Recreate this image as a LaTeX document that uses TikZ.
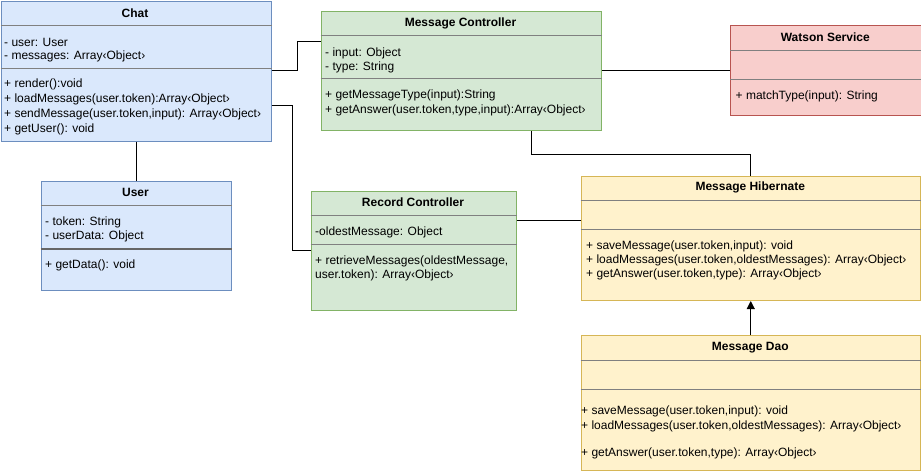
\documentclass[tikz,border=0pt]{standalone}
\usepackage{fontspec}
\setmainfont{Liberation Sans}
\usetikzlibrary{arrows.meta}
\definecolor{bfill}{HTML}{DAE8FC}\definecolor{bline}{HTML}{6C8EBF}
\definecolor{gfill}{HTML}{D5E8D4}\definecolor{gline}{HTML}{82B366}
\definecolor{rfill}{HTML}{F8CECC}\definecolor{rline}{HTML}{B85450}
\definecolor{yfill}{HTML}{FFF2CC}\definecolor{yline}{HTML}{D6B656}
\definecolor{sepc}{HTML}{808080}
\tikzset{
  cls/.style={draw, line width=1pt, inner sep=0pt, anchor=north west, rectangle},
  blue/.style={cls, fill=bfill, draw=bline},
  green/.style={cls, fill=gfill, draw=gline},
  red/.style={cls, fill=rfill, draw=rline},
  yellow/.style={cls, fill=yfill, draw=yline},
  sepl/.style={draw=sepc, line width=1pt},
  ttl/.style={font=\fontsize{12}{14}\selectfont\bfseries, inner sep=0pt, anchor=center},
  txt/.style={font=\fontsize{12}{14}\selectfont, inner sep=0pt, anchor=base west},
  conn/.style={draw=black, line width=1pt},
}
\begin{document}
\begin{tikzpicture}[x=1pt,y=-1pt]
\useasboundingbox (0,0) rectangle (921,471);
% Chat
\node[blue, minimum width=270pt, minimum height=140pt] (chat) at (0.5,0.5) {};
\node[ttl] (chatT) at (135,13) {Chat};
\draw[sepl] ([yshift=-24.5pt]chat.north west) -- ([yshift=-24.5pt]chat.north east);
\draw[sepl] ([yshift=-68pt]chat.north west) -- ([yshift=-68pt]chat.north east);
\node[txt] (chatA1) at (4,46) {- user: User};
\node[txt] (chatA2) at (4,59) {- messages: Array‹Object›};
\node[txt] (chatM1) at (4,87) {+ render():void};
\node[txt] (chatM2) at (4,102) {+ loadMessages(user.token):Array‹Object›};
\node[txt] (chatM3) at (4,117) {+ sendMessage(user.token,input): Array‹Object›};
\node[txt] (chatM4) at (4,132) {+ getUser(): void};
% Message Controller
\node[green, minimum width=280pt, minimum height=119.5pt] (mc) at (320.5,10.5) {};
\node[ttl] (mcT) at (460.5,23) {Message Controller};
\draw[sepl] ([yshift=-24.5pt]mc.north west) -- ([yshift=-24.5pt]mc.north east);
\draw[sepl] ([yshift=-67.5pt]mc.north west) -- ([yshift=-67.5pt]mc.north east);
\node[txt] (mcA1) at (325,56) {- input: Object};
\node[txt] (mcA2) at (325,70) {- type: String};
\node[txt] (mcM1) at (325,98) {+ getMessageType(input):String};
\node[txt] (mcM2) at (325,113) {+ getAnswer(user.token,type,input):Array‹Object›};
% Watson Service
\node[red, minimum width=190.5pt, minimum height=90pt] (ws) at (730,25) {};
\node[ttl] (wsT) at (825.25,37.5) {Watson Service};
\draw[sepl] ([yshift=-25pt]ws.north west) -- ([yshift=-25pt]ws.north east);
\draw[sepl] ([yshift=-54.3pt]ws.north west) -- ([yshift=-54.3pt]ws.north east);
\node[txt] (wsM1) at (735.5,99.7) {+ matchType(input): String};
% User
\node[blue, minimum width=190pt, minimum height=109.5pt] (user) at (40.5,180.5) {};
\node[ttl] (userT) at (135.5,192.7) {User};
\draw[sepl] ([yshift=-24.5pt]user.north west) -- ([yshift=-24.5pt]user.north east);
\draw[sepl, line width=1.6pt, draw=sepc!80!black] ([yshift=-68.5pt]user.north west) -- ([yshift=-68.5pt]user.north east);
\node[txt] (userA1) at (45,225.7) {- token: String};
\node[txt] (userA2) at (45,239.7) {- userData: Object};
\node[txt] (userM1) at (45,268) {+ getData(): void};
% Record Controller
\node[green, minimum width=205pt, minimum height=119.5pt] (rec) at (310.5,190.5) {};
\node[ttl] (recT) at (413,202.7) {Record Controller};
\draw[sepl] ([yshift=-24.5pt]rec.north west) -- ([yshift=-24.5pt]rec.north east);
\draw[sepl] ([yshift=-53.8pt]rec.north west) -- ([yshift=-53.8pt]rec.north east);
\node[txt] (recA1) at (315,235.7) {-oldestMessage: Object};
\node[txt] (recM1) at (315,264.3) {+ retrieveMessages(oldestMessage,};
\node[txt] (recM2) at (315,278.3) {user.token): Array‹Object›};
% Message Hibernate
\node[yellow, minimum width=339.5pt, minimum height=124.5pt] (hib) at (580.5,175.5) {};
\node[ttl] (hibT) at (750.25,187.7) {Message Hibernate};
\draw[sepl] ([yshift=-25.2pt]hib.north west) -- ([yshift=-25.2pt]hib.north east);
\draw[sepl] ([yshift=-53.8pt]hib.north west) -- ([yshift=-53.8pt]hib.north east);
\node[txt] (hibM1) at (586,249) {+ saveMessage(user.token,input): void};
\node[txt] (hibM2) at (586,263) {+ loadMessages(user.token,oldestMessages): Array‹Object›};
\node[txt] (hibM3) at (586,277.3) {+ getAnswer(user.token,type): Array‹Object›};
% Message Dao
\node[yellow, minimum width=339.5pt, minimum height=135pt] (dao) at (580.5,335) {};
\node[ttl] (daoT) at (750.25,347.7) {Message Dao};
\draw[sepl] ([yshift=-25.7pt]dao.north west) -- ([yshift=-25.7pt]dao.north east);
\draw[sepl] ([yshift=-54.3pt]dao.north west) -- ([yshift=-54.3pt]dao.north east);
\node[txt] (daoM1) at (581,414) {+ saveMessage(user.token,input): void};
\node[txt] (daoM2) at (581,429) {+ loadMessages(user.token,oldestMessages): Array‹Object›};
\node[txt] (daoM3) at (581,456.3) {+ getAnswer(user.token,type): Array‹Object›};
% Connectors
\draw[conn] ([yshift=-69.5pt]chat.north east) -- ++(25.5,0) |- ([yshift=-30.5pt]mc.north west);
\draw[conn] ([yshift=-104.5pt]chat.north east) -- ++(20.5,0) |- ([yshift=-59.5pt]rec.north west);
\draw[conn] (user.north |- chat.south) -- (user.north);
\draw[conn] (ws.west) -- (ws.west -| mc.east);
\draw[conn] ([xshift=-70.5pt]mc.south east) -- ++(0,23) -| (hib.north);
\coordinate (r1) at ([yshift=-29.8pt]rec.north east);
\draw[conn] (r1) -- (r1 -| hib.west);
\draw[conn, -{Triangle[length=8pt,width=8pt]}] (dao.north) -- (hib.south);
\end{tikzpicture}
\end{document}
